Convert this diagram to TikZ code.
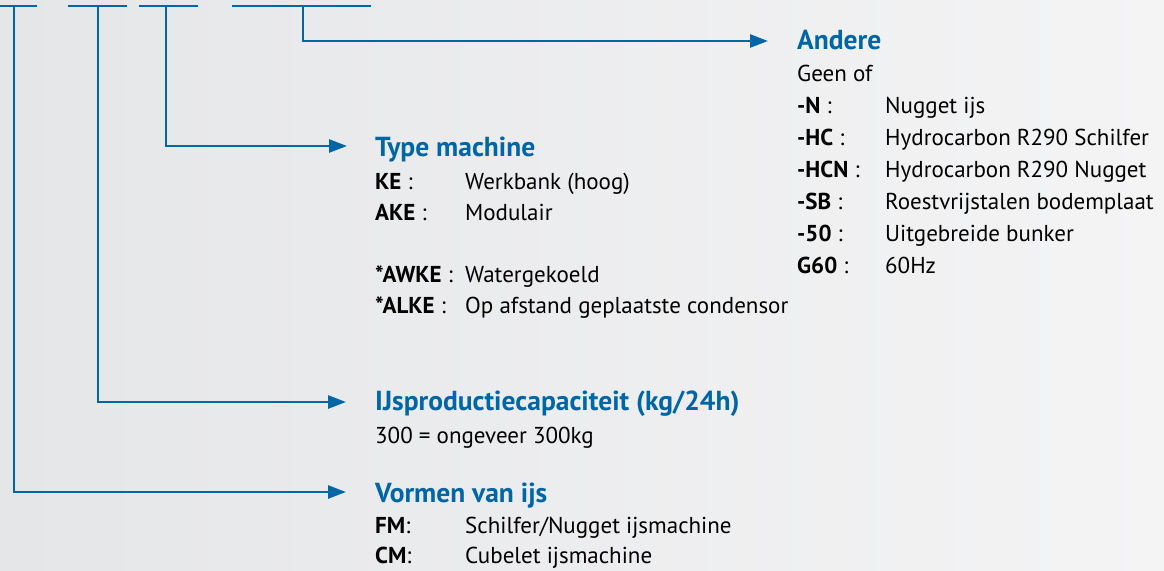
\documentclass[tikz,border=0pt]{standalone}
\usepackage{fontspec}
\setmainfont{PT Sans}
\usetikzlibrary{arrows.meta}
\definecolor{hblue}{RGB}{0,102,166}
\definecolor{bgl}{RGB}{229,230,232}
\definecolor{bgr}{RGB}{244,244,245}
\tikzset{
  conn/.style={draw=hblue, line width=2.6pt},
  arr/.style={conn, -{Triangle[length=18pt,width=13pt]}},
  head/.style={anchor=base west, inner sep=0pt, text=hblue, font=\fontsize{27.5}{30}\selectfont\bfseries},
  body/.style={anchor=base west, inner sep=0pt, text=black, font=\fontsize{23}{26}\selectfont},
}
\begin{document}
\begin{tikzpicture}[x=1pt,y=-1pt]
\useasboundingbox (0,0) rectangle (1164,570);
\shade[left color=bgl, right color=bgr] (0,0) rectangle (1164,570);

% top segments
\coordinate (s1a) at (0,6); \coordinate (s1b) at (37,6);
\coordinate (s2a) at (68,6); \coordinate (s2b) at (127,6);
\coordinate (s3a) at (139,6); \coordinate (s3b) at (198,6);
\coordinate (s4a) at (232,6); \coordinate (s4b) at (371,6);
\draw[conn] (s1a) -- (s1b);
\draw[conn] (s2a) -- (s2b);
\draw[conn] (s3a) -- (s3b);
\draw[conn] (s4a) -- (s4b);

% branch origins
\coordinate (v1) at (14,6);
\coordinate (v2) at (98,6);
\coordinate (v3) at (166,6);
\coordinate (v4) at (303,6);
% arrow tips
\coordinate (t1) at (346,492);
\coordinate (t2) at (346,402);
\coordinate (t3) at (347,146);
\coordinate (t4) at (768,41);

\draw[arr] (v1) |- (t1);
\draw[arr] (v2) |- (t2);
\draw[arr] (v3) |- (t3);
\draw[arr] (v4) |- (t4);

% Andere
\node[head] (andere) at (797,49) {Andere};
\node[body] (geen) at (797,81) {Geen of};
\node[body] (k1) at (797,113) {\textbf{-N} :};
\node[body] (v1t) at (885,113) {Nugget ijs};
\node[body] (k2) at (797,145) {\textbf{-HC} :};
\node[body] (v2t) at (885,145) {Hydrocarbon R290 Schilfer};
\node[body] (k3) at (797,177) {\textbf{-HCN} :};
\node[body] (v3t) at (885,177) {Hydrocarbon R290 Nugget};
\node[body] (k4) at (797,209) {\textbf{-SB} :};
\node[body] (v4t) at (885,209) {Roestvrijstalen bodemplaat};
\node[body] (k5) at (797,241) {\textbf{-50} :};
\node[body] (v5t) at (885,241) {Uitgebreide bunker};
\node[body] (k6) at (797,273) {\textbf{G60} :};
\node[body] (v6t) at (885,273) {60Hz};

% Type machine
\node[head] (type) at (375,156) {Type machine};
\node[body] (tk1) at (375,189) {\textbf{KE} :};
\node[body] (tv1) at (465,189) {Werkbank (hoog)};
\node[body] (tk2) at (375,220) {\textbf{AKE} :};
\node[body] (tv2) at (465,220) {Modulair};
\node[body] (tk3) at (375,282) {\textbf{*AWKE} :};
\node[body] (tv3) at (465,282) {Watergekoeld};
\node[body] (tk4) at (375,313) {\textbf{*ALKE} :};
\node[body] (tv4) at (465,313) {Op afstand geplaatste condensor};

% IJsproductiecapaciteit
\node[head] (ijs) at (375,410) {IJsproductiecapaciteit (kg/24h)};
\node[body] (ijsv) at (375,443) {300 = ongeveer 300kg};

% Vormen van ijs
\node[head] (vorm) at (375,502) {Vormen van ijs};
\node[body] (fk) at (375,533) {\textbf{FM}:};
\node[body] (fv) at (465,533) {Schilfer/Nugget ijsmachine};
\node[body] (ck) at (375,563) {\textbf{CM}:};
\node[body] (cv) at (465,563) {Cubelet ijsmachine};
\end{tikzpicture}
\end{document}
